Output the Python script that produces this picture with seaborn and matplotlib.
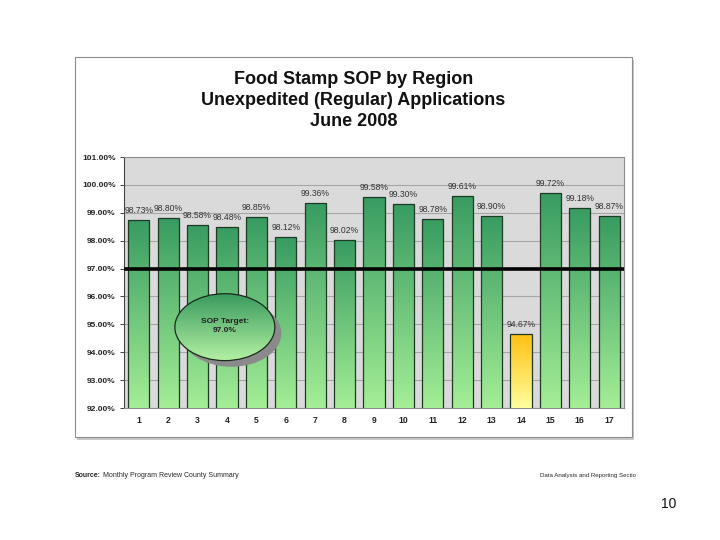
import numpy as np
import matplotlib
matplotlib.use("Agg")
import matplotlib.pyplot as plt
import seaborn as sns
import pandas as pd
from matplotlib.colors import LinearSegmentedColormap
from matplotlib.patches import Ellipse, Rectangle
from matplotlib.ticker import FuncFormatter, MultipleLocator

# Chart data
regions = [str(i) for i in range(1, 18)]
sop_pct = [98.73, 98.80, 98.58, 98.48, 98.85, 98.12, 99.36, 98.02, 99.58,
           99.30, 98.78, 99.61, 98.90, 94.67, 99.72, 99.18, 98.87]
target_pct = 97.0
title_lines = ["Food Stamp SOP by Region",
               "Unexpedited (Regular) Applications",
               "June 2008"]

sns.set_theme(style="white")
plt.rcParams['font.family'] = ['Liberation Sans', 'DejaVu Sans']

Y_MIN, Y_MAX = 92.0, 101.0
GREEN_TOP, GREEN_BOTTOM = "#389b61", "#a4ee96"
GOLD_TOP, GOLD_BOTTOM = "#ffbf10", "#ffff9e"


def gradient_fill(ax, patch, extent, top, bottom, zorder):
    """Paint a vertical gradient inside a patch."""
    cmap = LinearSegmentedColormap.from_list("grad", [bottom, top])
    grad = np.linspace(0, 1, 256).reshape(-1, 1)
    im = ax.imshow(grad, extent=extent, origin="lower", cmap=cmap,
                   aspect="auto", zorder=zorder, interpolation="bilinear")
    im.set_clip_path(patch)


fig = plt.figure(figsize=(7.2, 5.4), dpi=100)
fig.patch.set_facecolor("white")

# outer frame with a light shadow
fig.add_artist(Rectangle((0.107, 0.186), 0.7736, 0.7037, transform=fig.transFigure,
                         facecolor="#c8c8c8", edgecolor="none", zorder=-2))
fig.add_artist(Rectangle((0.104, 0.1907), 0.7736, 0.7037, transform=fig.transFigure,
                         facecolor="white", edgecolor="#8c8c8c", lw=0.8, zorder=-1))

for line, y in zip(title_lines, [0.853, 0.814, 0.775]):
    fig.text(0.491, y, line, ha="center", va="center", fontsize=13,
             fontweight="bold", color="#111111")

ax = fig.add_axes([0.1722, 0.2444, 0.6944, 0.4648])
ax.set_zorder(2)
df = pd.DataFrame({"region": regions, "sop": sop_pct})
sns.barplot(data=df, x="region", y="sop", ax=ax, width=0.72,
            color=GREEN_TOP, edgecolor="#1e3a24", linewidth=0.9, zorder=3)

ax.set_facecolor("#dadada")
ax.set_xlim(-0.5, len(regions) - 0.5)
ax.set_ylim(Y_MIN, Y_MAX)

for patch, val in zip(ax.patches, sop_pct):
    x0, w = patch.get_x(), patch.get_width()
    top, bottom = (GOLD_TOP, GOLD_BOTTOM) if val < target_pct else (GREEN_TOP, GREEN_BOTTOM)
    patch.set_facecolor("none")
    gradient_fill(ax, patch, [x0, x0 + w, Y_MIN, val], top, bottom, zorder=2.9)
    ax.text(x0 + w / 2, val + 0.18, f"{val:.2f}%", ha="center", va="bottom",
            fontsize=6.2, color="#333333", zorder=5)

ax.axhline(target_pct, color="black", lw=2.6, zorder=6)

# SOP target callout
cx, cy, ew, eh = 2.93, 94.90, 3.4, 2.4
shadow = Ellipse((cx + 0.22, cy - 0.22), ew, eh, facecolor="#8a8a8a",
                 edgecolor="none", zorder=6.5)
ax.add_patch(shadow)
ell = Ellipse((cx, cy), ew, eh, facecolor="none", edgecolor="#1c2a1c",
              lw=0.9, zorder=7.2)
ax.add_patch(ell)
gradient_fill(ax, ell, [cx - ew / 2, cx + ew / 2, cy - eh / 2, cy + eh / 2],
              "#3a9a5e", "#b4f2a4", zorder=7)
ax.text(cx, cy + 0.05, f"SOP Target:\n{target_pct:.1f}%", ha="center", va="center",
        fontsize=6, fontweight="bold", color="#222222", zorder=8, linespacing=1.3)

ax.set_xlim(-0.5, len(regions) - 0.5)
ax.set_ylim(Y_MIN, Y_MAX)
ax.yaxis.set_major_locator(MultipleLocator(1))
ax.yaxis.set_major_formatter(FuncFormatter(lambda v, _: f"{v:.2f}%"))
ax.grid(axis="y", color="#a6a6a6", lw=0.8, zorder=1)
ax.set_axisbelow(True)
ax.set_xlabel("")
ax.set_ylabel("")
ax.tick_params(axis="y", labelsize=6, length=3, width=0.6, pad=3,
               left=True, colors="#222222")
ax.tick_params(axis="x", labelsize=6.2, length=0, pad=6, colors="#222222")
for lbl in ax.get_xticklabels() + ax.get_yticklabels():
    lbl.set_fontweight("bold")
for side in ["top", "right", "bottom", "left"]:
    ax.spines[side].set_color("#8c8c8c")
    ax.spines[side].set_linewidth(0.8)
ax.spines["left"].set_color("#444444")

# footer
fig.text(0.104, 0.120, "Source:", fontsize=5, fontweight="bold", va="center")
fig.text(0.143, 0.120, "Monthly Program Review County Summary", fontsize=5, va="center")
fig.text(0.750, 0.120, "Data Analysis and Reporting Sectio", fontsize=4.4, va="center")
fig.text(0.940, 0.067, "10", fontsize=10, va="center", ha="right", color="#111111")

fig.savefig("out.png", dpi=100)
